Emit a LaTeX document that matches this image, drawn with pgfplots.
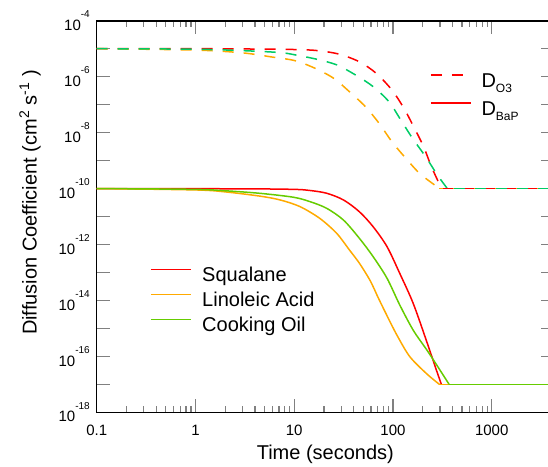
\documentclass[border=0pt]{standalone}
\usepackage{pgfplots}
\pgfplotsset{compat=1.18}
\usepackage{fontspec}
\setmainfont{Liberation Sans}

\definecolor{sqred}{RGB}{255,0,0}
\definecolor{laorange}{RGB}{255,170,0}
\definecolor{cogreen}{RGB}{102,204,0}
\definecolor{cogreenD}{RGB}{0,204,102}

% power-of-ten tick label set in the text font
\newcommand{\decpow}[1]{10\raisebox{12.5pt}{\fontsize{10}{10}\selectfont #1}}

\tikzset{
  bapline/.style={line width=1.5pt},
  ozline/.style={line width=1.5pt, dash pattern=on 11pt off 10pt},
}
\pgfplotsset{
  legend image code/.code={\draw[#1] (0pt,7.2pt) -- (40.7pt,7.2pt);},
}

\begin{document}
\begin{tikzpicture}[trim left=-96.7pt, trim right=451.3pt]

% BaP diffusion coefficients (solid)
\begin{axis}[
  at={(0pt,0pt)}, anchor=south west,
  scale only axis, width=457.3pt, height=391.6pt,
  xmode=log, ymode=log,
  xmin=0.1, xmax=4270, ymin=1e-18, ymax=1e-4,
  xtick={0.1,1,10,100,1000},
  xticklabels={0.1,1,10,100,1000},
  ytick={1e-18,1e-17,1e-16,1e-15,1e-14,1e-13,1e-12,1e-11,1e-10,1e-9,1e-8,1e-7,1e-6,1e-5,1e-4},
  yticklabels={\decpow{-18},{},\decpow{-16},{},\decpow{-14},{},\decpow{-12},{},\decpow{-10},{},\decpow{-8},{},\decpow{-6},{},\decpow{-4}},
  yminorticks=false,
  tick align=inside,
  major tick length=13pt, minor tick length=6.7pt,
  tick style={line width=1.3pt},
  axis line style={line width=1.6pt},
  tick label style={font=\fontsize{15}{15}\selectfont},
  xticklabel style={yshift=-9.5pt},
  yticklabel style={xshift=-3.4pt},
  xlabel={Time (seconds)},
  ylabel={Diffusion Coefficient (cm\textsuperscript{2} s\textsuperscript{-1} )},
  label style={font=\fontsize{20}{20}\selectfont},
  xlabel style={at={(axis description cs:0.5,0)}, anchor=base, yshift=-47pt},
  ylabel style={at={(axis description cs:-0.1312,0.536)}, anchor=base},
]
% Squalane
\addplot[sqred, bapline, smooth, tension=0.5] coordinates {
  (0.1,1e-10) (3,9.77e-11) (10,9.33e-11) (14.5,8.51e-11) (21.4,6.76e-11) (31.6,3.89e-11)
  (45.7,1.48e-11) (63.1,4.27e-12) (87.1,8.32e-13) (117,9.33e-14) (160,7.94e-15)
  (219,3.47e-16) (275,3.24e-17) (309,1e-17)
};
\addplot[sqred, bapline] coordinates {(309,1e-17) (4300,1e-17)};
% Linoleic acid
\addplot[laorange, bapline, smooth, tension=0.5] coordinates {
  (0.1,1e-10) (1,8.91e-11) (2,7.59e-11) (4.47,5.37e-11) (7.24,3.89e-11)
  (11.5,2.24e-11) (18.2,8.51e-12) (26.9,2.51e-12) (36.3,6.31e-13) (45.7,2.14e-13)
  (58.9,5.01e-14) (70.8,1.26e-14) (87.1,2.82e-15) (110,5.62e-16) (148,9.77e-17)
  (219,2.40e-17) (295,1e-17)
};
\addplot[laorange, bapline] coordinates {(295,1e-17) (4300,1e-17)};
% Cooking oil
\addplot[cogreen, bapline, smooth, tension=0.5] coordinates {
  (0.1,1e-10) (1,9.33e-11) (2,8.32e-11) (4.47,6.76e-11) (9.77,4.90e-11)
  (14.5,3.39e-11) (21.4,1.95e-11) (31.6,7.41e-12) (45.7,1.66e-12) (63.1,3.63e-13)
  (87.1,6.17e-14) (117,6.92e-15) (160,8.71e-16) (219,1.74e-16) (275,5.13e-17)
  (370,1e-17)
};
\addplot[cogreen, bapline] coordinates {(370,1e-17) (4300,1e-17)};
\end{axis}

% O3 diffusion coefficients (dashed)
\begin{axis}[
  at={(0pt,0pt)}, anchor=south west,
  scale only axis, width=457.3pt, height=391.6pt,
  xmode=log, ymode=log,
  xmin=0.1, xmax=4270, ymin=1e-18, ymax=1e-4,
  axis lines=none, ticks=none,
  legend cell align=left,
  legend style={at={(0.7289,0.8682)}, anchor=north west, draw=none, fill=none,
    inner sep=0pt, outer sep=0pt, row sep=7.7pt, column sep=9.3pt,
    nodes={inner sep=0pt, text height=15pt, text depth=5pt,
           font=\fontsize{20}{20}\selectfont}},
]
\addlegendimage{sqred, ozline}
\addlegendentry{D\raisebox{-5pt}{\fontsize{12}{12}\selectfont O3}}
\addlegendimage{sqred, bapline}
\addlegendentry{D\raisebox{-5pt}{\fontsize{12}{12}\selectfont BaP}}
\addplot[sqred, ozline, smooth, tension=0.5, forget plot] coordinates {
  (0.1,1e-5) (1,1e-5) (3.16,9.77e-6) (10,9.33e-6) (17.4,8.51e-6) (28.8,6.31e-6)
  (45.7,3.39e-6) (67.6,1.32e-6) (97.7,3.31e-7) (129,7.41e-8) (162,1.62e-8)
  (204,3.16e-9) (245,6.03e-10) (310,1e-10)
};
\addplot[laorange, ozline, smooth, tension=0.5, forget plot] coordinates {
  (0.1,1e-5) (1,8.91e-6) (3,7.08e-6) (6,5.01e-6) (10.2,3.72e-6) (16.2,2.0e-6)
  (25.1,8.71e-7) (36.3,2.88e-7) (52.5,8.51e-8) (72.4,2.14e-8) (97.7,4.68e-9)
  (135,1.20e-9) (186,3.47e-10) (263,1.35e-10) (295,1e-10)
};
\addplot[cogreenD, ozline, smooth, tension=0.5, forget plot] coordinates {
  (0.1,1e-5) (1,9.55e-6) (3,8.51e-6) (7.24,7.24e-6) (10.5,5.89e-6) (17,4.17e-6)
  (27,2.63e-6) (41.7,1.15e-6) (63.1,4.37e-7) (91.2,1.26e-7) (120,2.82e-8)
  (158,6.17e-9) (214,1.38e-9) (282,3.02e-10) (355,1e-10)
};
% common plateau after the drop
\addplot[sqred, ozline, forget plot] coordinates {(310,1e-10) (4300,1e-10)};
\addplot[laorange, ozline, forget plot, dash phase=7pt] coordinates {(295,1e-10) (4300,1e-10)};
\addplot[cogreenD, ozline, forget plot, dash phase=14pt] coordinates {(355,1e-10) (4300,1e-10)};
\end{axis}

% legend of the solvents
\begin{axis}[
  at={(0pt,0pt)}, anchor=south west,
  scale only axis, width=457.3pt, height=391.6pt,
  xmode=log, ymode=log,
  xmin=0.1, xmax=4270, ymin=1e-18, ymax=1e-4,
  axis lines=none, ticks=none,
  legend cell align=left,
  legend style={at={(0.1166,0.3718)}, anchor=north west, draw=none, fill=none,
    inner sep=0pt, outer sep=0pt, row sep=5pt, column sep=10pt,
    nodes={inner sep=0pt, text height=15pt, text depth=5pt,
           font=\fontsize{20}{20}\selectfont}},
]
\addlegendimage{sqred, bapline}
\addlegendentry{Squalane}
\addlegendimage{laorange, bapline}
\addlegendentry{Linoleic Acid}
\addlegendimage{cogreen, bapline}
\addlegendentry{Cooking Oil}
\end{axis}

% page extent above and below the axis
\path (0pt,-53.7pt) (0pt,412.3pt);
\end{tikzpicture}
\end{document}
